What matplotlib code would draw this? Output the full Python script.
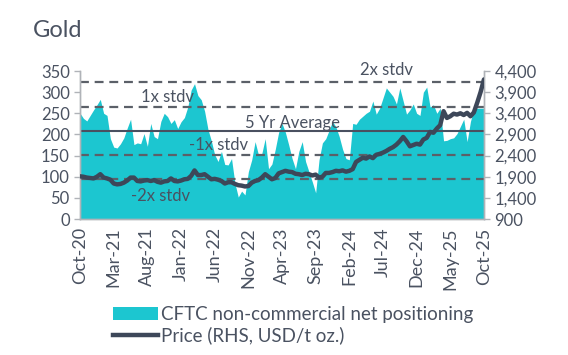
import matplotlib
matplotlib.use("Agg")
import matplotlib.pyplot as plt
import numpy as np
import pandas as pd
from matplotlib.patches import Patch
from matplotlib.lines import Line2D
from matplotlib.ticker import FuncFormatter

plt.rcParams['font.family'] = ['Lato', 'DejaVu Sans']

# semi-monthly observations, Oct-20 .. Oct-25
dates = pd.date_range('2020-10-15', periods=121, freq='SMS')

# CFTC non-commercial net positioning (LHS, thousand contracts)
cftc = [250, 238, 232, 245, 258, 270, 283, 250, 245, 190,
        170, 168, 178, 192, 215, 236, 176, 180, 178, 202,
        172, 226, 195, 190, 231, 250, 242, 226, 235, 214,
        230, 240, 265, 305, 320, 292, 282, 255, 212, 185,
        152, 136, 160, 129, 128, 143, 85, 52, 66, 57,
        112, 140, 183, 152, 155, 190, 119, 130, 165, 205,
        226, 205, 175, 143, 119, 160, 183, 136, 112, 88,
        62, 140, 180, 190, 210, 231, 218, 195, 165, 143,
        140, 226, 224, 236, 243, 250, 255, 279, 248, 262,
        286, 310, 300, 290, 272, 310, 279, 248, 258, 272,
        250, 245, 300, 312, 265, 270, 250, 262, 185, 186,
        190, 192, 202, 219, 236, 183, 231, 259, 262, 262,
        262]

# gold price (RHS, USD/t oz.)
price = [1910, 1900, 1880, 1870, 1860, 1900, 1960, 1880, 1860, 1830,
         1740, 1720, 1730, 1760, 1810, 1880, 1880, 1800, 1790, 1810,
         1820, 1800, 1820, 1780, 1760, 1790, 1800, 1860, 1800, 1790,
         1810, 1840, 1850, 1920, 2050, 1940, 1940, 1960, 1900, 1840,
         1850, 1830, 1800, 1740, 1770, 1770, 1730, 1700, 1690, 1670,
         1680, 1760, 1800, 1820, 1880, 1960, 1900, 1840, 1870, 1980,
         2010, 2040, 2020, 2010, 1970, 1960, 1940, 1970, 1960, 1930,
         1950, 1880, 1900, 1990, 1990, 2010, 2040, 2030, 2050, 2020,
         2040, 2080, 2250, 2300, 2350, 2330, 2380, 2340, 2420, 2440,
         2470, 2510, 2560, 2600, 2660, 2740, 2840, 2740, 2620, 2650,
         2680, 2660, 2780, 2820, 2960, 2940, 3040, 3120, 3450, 3290,
         3330, 3390, 3370, 3400, 3360, 3410, 3330, 3420, 3650, 3900,
         4200]

avg_5yr = 209
stdv = 57
bands = [-2, -1, 1, 2]

TEAL = '#1cc6d0'
NAVY = '#3d4759'
TXT = '#4a5261'
GRID = '#5b6068'

fig = plt.figure(figsize=(5.68, 3.55), dpi=100)
ax = fig.add_axes([0.141, 0.383, 0.711, 0.417])
ax2 = ax.twinx()

x = np.arange(len(cftc))
ax.fill_between(x, 0, cftc, color=TEAL, lw=0, zorder=1)

ax.axhline(avg_5yr, color='#4a5060', lw=1.5, zorder=2)
for k in bands:
    ax.axhline(avg_5yr + k * stdv, color=GRID, lw=1.6, ls=(0, (4, 2.6)), zorder=2)

# band labels: x index, band multiple, vertical offset from its line
labels = [('2x stdv', 91, 2, 29), ('1x stdv', 26, 1, 22), ('5 Yr Average', 63, 0, 17),
          ('-1x stdv', 41, -1, 22), ('-2x stdv', 24, -2, -40)]
for name, xi, k, off in labels:
    ax.text(xi, avg_5yr + k * stdv + off, name, ha='center', va='center',
            fontsize=12, color=TXT, zorder=3, clip_on=False)

ax2.plot(x, price, color=NAVY, lw=3.2, solid_capstyle='round', zorder=4)

ax.set_xlim(0, len(cftc) - 1)
ax.set_ylim(0, 350)
ax.set_yticks(np.arange(0, 351, 50))
ax2.set_ylim(900, 4400)
ax2.set_yticks(np.arange(900, 4401, 500))
ax2.yaxis.set_major_formatter(FuncFormatter(lambda v, p: f'{int(v):,}'))

ticks = x[::10]
ax.set_xticks(ticks)
ax.set_xticklabels([dates[i].strftime('%b-%y') for i in ticks], rotation=90)

for a in (ax, ax2):
    a.spines['top'].set_visible(False)
    for s in ('left', 'right', 'bottom'):
        a.spines[s].set_color('#b0b3b8')
        a.spines[s].set_linewidth(1.0)
    a.tick_params(colors='#b0b3b8', labelcolor=TXT, labelsize=12, length=4, width=1)
ax.tick_params(axis='x', length=0, pad=6, labelsize=13)

handles = [Patch(facecolor=TEAL, edgecolor='none'),
           Line2D([0], [0], color=NAVY, lw=3.2)]
fig.legend(handles, ['CFTC non-commercial net positioning', 'Price (RHS, USD/t oz.)'],
           loc='upper left', bbox_to_anchor=(0.183, 0.165), frameon=False,
           fontsize=13.5, handlelength=2.4, handletextpad=0.15, labelspacing=0.2,
           borderpad=0, labelcolor=TXT)

fig.text(0.058, 0.915, 'Gold', fontsize=17, color=TXT, va='center')

fig.savefig('out.png', dpi=100)
